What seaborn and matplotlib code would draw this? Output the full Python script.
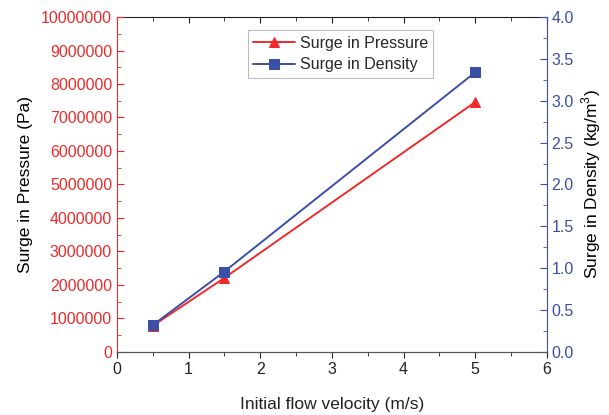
import numpy as np
import pandas as pd
import matplotlib
matplotlib.use("Agg")
import matplotlib.pyplot as plt
import seaborn as sns
from matplotlib.ticker import MultipleLocator, FormatStrFormatter, NullFormatter

sns.set_style("ticks")
plt.rcParams['font.family'] = ['Liberation Sans', 'DejaVu Sans']
plt.rcParams['mathtext.fontset'] = 'custom'
plt.rcParams['mathtext.rm'] = 'Liberation Sans'

# data
velocity = [0.5, 1.5, 5.0]
pressure = [780000, 2210000, 7460000]
density = [0.32, 0.96, 3.34]

RED = '#f02a2a'
BLUE = '#3b4fa6'

df = pd.DataFrame({'velocity': velocity, 'pressure': pressure, 'density': density})

fig = plt.figure(figsize=(6.09, 4.15), dpi=100)
ax = fig.add_axes([0.192, 0.152, 0.706, 0.807])
ax2 = ax.twinx()

sns.lineplot(data=df, x='velocity', y='pressure', ax=ax, color=RED, marker='^',
             markersize=7.5, markeredgecolor=RED, linewidth=1.4, label='Surge in Pressure', legend=False)
sns.lineplot(data=df, x='velocity', y='density', ax=ax2, color=BLUE, marker='s',
             markersize=6.5, markeredgecolor=BLUE, linewidth=1.4, label='Surge in Density', legend=False)

ax.set_xlim(0, 6)
ax.set_ylim(0, 10000000)
ax2.set_ylim(0, 4.0)

ax.xaxis.set_major_locator(MultipleLocator(1))
ax.xaxis.set_minor_locator(MultipleLocator(0.5))
ax.yaxis.set_major_locator(MultipleLocator(1000000))
ax.yaxis.set_minor_locator(MultipleLocator(500000))
ax2.yaxis.set_major_locator(MultipleLocator(0.5))
ax2.yaxis.set_minor_locator(MultipleLocator(0.25))
ax.ticklabel_format(axis='y', style='plain', useOffset=False)
ax2.yaxis.set_major_formatter(FormatStrFormatter('%.1f'))

ax.tick_params(axis='x', which='both', direction='out', labelsize=11.5, colors='#222222')
ax.tick_params(axis='x', which='major', length=4)
ax.tick_params(axis='x', which='minor', length=3)
ax.tick_params(axis='y', which='both', direction='in', colors=RED, labelsize=11.5)
ax.tick_params(axis='y', which='major', length=5)
ax.tick_params(axis='y', which='minor', length=3)
ax2.tick_params(axis='y', which='both', direction='in', colors=BLUE, labelsize=11.5)
ax2.tick_params(axis='y', which='major', length=5)
ax2.tick_params(axis='y', which='minor', length=3)

# top axis ticks point inward
top = ax.secondary_xaxis('top')
top.xaxis.set_major_locator(MultipleLocator(1))
top.xaxis.set_minor_locator(MultipleLocator(0.5))
top.xaxis.set_major_formatter(NullFormatter())
top.tick_params(axis='x', which='both', direction='in', colors='#222222')
top.tick_params(axis='x', which='major', length=4)
top.tick_params(axis='x', which='minor', length=3)
top.spines['top'].set_color('#222222')

for a in (ax, ax2):
    a.spines['top'].set_visible(False)
    a.spines['bottom'].set_color('#555555')
ax.spines['left'].set_color(RED)
ax2.spines['left'].set_visible(False)
ax2.spines['right'].set_visible(True)
ax2.spines['right'].set_color(BLUE)
ax.spines['right'].set_visible(False)

ax.set_xlabel('Initial flow velocity (m/s)', fontsize=12.5, color='#222222', labelpad=14)
ax.set_ylabel('Surge in Pressure (Pa)', fontsize=12.5, color='black', labelpad=6)
ax2.set_ylabel('Surge in Density (kg/m$^3$)', fontsize=12.5, color='black', labelpad=4)

h1, l1 = ax.get_legend_handles_labels()
h2, l2 = ax2.get_legend_handles_labels()
leg = ax2.legend(h1 + h2, l1 + l2, loc='upper center', bbox_to_anchor=(0.52, 0.975),
                 fontsize=11.5, frameon=True, fancybox=False, handlelength=2.6,
                 borderpad=0.35, labelspacing=0.4, handletextpad=0.3, borderaxespad=0.3)
leg.get_frame().set_edgecolor('#aaaaaa')
leg.get_frame().set_linewidth(0.8)

fig.savefig('out.png', dpi=100)
